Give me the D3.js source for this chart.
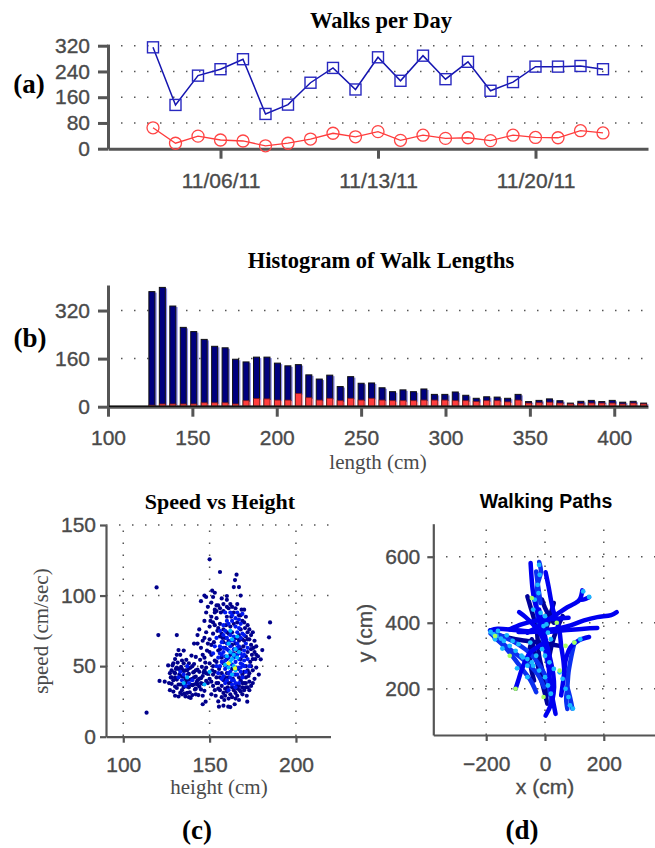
<!DOCTYPE html>
<html><head><meta charset="utf-8">
<script src="https://cdn.jsdelivr.net/npm/d3@7"></script>
<style>body{margin:0;background:#fff}svg{display:block}</style>
</head><body>
<svg id="fig" width="655" height="848"></svg>
<script>
// ---------- (a) Walks per Day ----------
const walkDates = ["2011-11-03","2011-11-04","2011-11-05","2011-11-06","2011-11-07","2011-11-08","2011-11-09","2011-11-10","2011-11-11","2011-11-12","2011-11-13","2011-11-14","2011-11-15","2011-11-16","2011-11-17","2011-11-18","2011-11-19","2011-11-20","2011-11-21","2011-11-22","2011-11-23"];
const walksAll  = [315,136,227,247,278,108,137,205,251,184,284,211,289,216,270,180,207,255,255,257,247];
const walksLong = [65,17,39,27,24,9,17,30,48,37,53,26,42,32,34,25,42,35,34,56,49];
const dateTicks = ["2011-11-06","2011-11-13","2011-11-20"];
const walksYTicks = [0,80,160,240,320];

// ---------- (b) Histogram of Walk Lengths ----------
const lengthBins = [126,132.2,138.4,144.6,150.8,157,163.2,169.4,175.6,181.8,188,194.2,200.4,206.6,212.8,219,225.2,231.4,237.6,243.8,250,256.2,262.4,268.6,274.8,281,287.2,293.4,299.6,305.8,312,318.2,324.4,330.6,336.8,343,349.2,355.4,361.6,367.8,374,380.2,386.4,392.6,398.8,405,411.2,417.4];
const histAll  = [383,397,335,264,250,224,201,196,158,149,165,165,145,136,140,106,92,105,67,100,78,79,63,50,56,50,59,41,41,49,38,28,33,32,28,41,17,21,26,20,12,18,21,17,21,15,18,12];
const histLong = [5,9,9,9,9,13,13,13,9,20,27,26,22,22,44,30,22,28,20,28,22,28,22,20,20,20,22,22,22,20,20,17,20,20,16,22,12,13,15,12,9,10,12,12,12,9,12,9];
const histXTicks = [100,150,200,250,300,350,400];
const histYTicks = [0,160,320];

// ---------- (c) Speed vs Height : [height cm, speed cm/s] ----------
const scatterNavy = [
[127.5,42],[128,37.5],[128.5,50.5],[129,32],[129.5,45.5],[130,29],[130.5,48],[130,35.5],[131,40.5],[131.5,52.5],[132,28.5],[132.5,44],[133,37],[133.5,49.5],[134,33],[134.5,42.5],[135,46.5],[135.5,30.5],[136,38.5],[136.5,54.5],[137,35.5],[137.5,44],[138,48.5],[138.5,31.5],[139,40.5],[139.5,57.5],[140,36.5],[140.5,45.5],[141,51.5],[141.5,33.5],[142,42.5],[142.5,38.5],[143,47.5],[143.5,29.5],[144,35.5],[144.5,54.5],[145,41.5],[145.5,49.5],[146,37.5],[146.5,45.5],[147,32.5],[147.5,52.5],[148,39.5],[148.5,61],[149,44.5],[138,52],[134,54],[131,34.5],[136,28.5],[140,29.5],[142,56.5],[145,33.5],[126,50.5],[127,33],[129,52],[133,58],[135,61],[137,40],[139,27.5],[141,46],[143,40],[146,29],[147,56],[132,48],[130,42],[134,37],[136,47],[138,44.5],[140,41],[144,46],[142,34],[128,47],[126.5,38],[135,35],[137,31],[141,37],[139,49],[133,31],[131,58],
[129,40],[130,45],[131,49],[132,37],[133,43],[134,48],[135,52],[136,41],[137,47],[138,35],[139,37],[140,50],[141,42],[142,47],[143,37],[144,41],[145,38],[146,43],[147,47],[148,45],[149,38],[127,45],[128,42],[130,55],[134,30],[138,28],[142,30],
[150.5,82],[151,58],[151.5,47],[152,36],[152.5,67],[153,54],[153.5,29],[154,42],[154.5,75],[155,61],[155.5,48],[156,33],[156.5,88],[157,56],[157.5,70],[158,40],[158.5,26],[159,63],[159.5,79],[160,45],[160.5,35],[161,68],[161.5,52],[162,30],[162.5,85],[163,74],[163.5,41],[164,59],[164.5,23],[165,66],[165.5,37],[166,81],[166.5,48],[167,72],[167.5,33],[168,55],[168.5,90],[169,44],[169.5,64],[170,38],[170.5,77],[171,50],[171.5,29],[172,60],[172.5,43],[173,69],[173.5,53],[174,36],[174.5,58],[175,47],[175.5,63],[176,41],[176.5,55],[177,49],[178,57],[178.5,44],[152,73],[153,88],[155,93],[156,71],[157,45],[158,52],[159,34],[160,85],[161,27],[162,58],[163,48],[164,88],[165,31],[166,61],[167,42],[168,76],[169,35],[170,68],[171,57],[172,47],[173,39],[174,65],[155,38],[157,28],[159,42],[161,38],[163,35],[165,44],[167,26],[169,30],[171,35],[160,55],[158,67],[156,62],[154,53],[152,44],[151,39],[150,52],[166,70],[168,62],[170,46],[164,80],[162,78],[160,74],[158,76],[156,80],[154,84],[171,85],[169,82],[167,86],[165,91],[163,92],[161,91],[158,94],[157,98],[160,97],[170,90],[172,74],[174,72],[176,68],[175,38],[173,33],[171,42],[155,25],[158,22],[162,21],[166,34],[168,40],[153,33],[151,30],[150,41],
[150,60],[151,65],[152,50],[153,46],[154,38],[155,34],[156,42],[157,36],[158,31],[159,29],[160,32],[161,42],[162,38],[163,28],[164,33],[165,27],[166,29],[167,36],[168,32],[169,38],[170,33],[171,38],[172,35],[173,45],[174,50],[175,55],[176,60],[177,58],[174,62],[172,69],[171,71],[169,69],[167,68],[165,70],[163,65],[161,73],[159,70],[157,73],[155,77],[153,79],[152,81],[154,89],[156,91],[158,89],[160,92],[162,94],[166,94],[168,86],[170,81],[172,79],[173,76],[175,74],
[141,66],[143,72],[144,76],[145,63],[146,68],[147,70],[147,82],[148,74],[148,88],[149,66],[149,92],[150,78],[150,69],[151,85],[151,95],[152,99],[153,90],[153,102],[154,93],[145,96],[147,100],[148,99],[151.5,103.5],[150,125.7],[156,116.7],[165.6,114.8],[164.7,111],[164,106],[167,106],[168,100],[160,99.7],[185,81],[184.4,70.4],[180.5,61.4],[179.6,54.8],[177,64],[171.8,24.8],[160.8,21.3],[155.4,21.3],[146,23],[147.7,24.8],[121,39.5],[124,39],[113.5,17],[119.3,105.8],[120.3,72],[131,72],[132,61.4],[143,66],[146,58],[148,49]
];
const scatterBlue = [[158,60],[160,62],[162,64],[164,56],[166,58],[168,52],[159,48],[161,45],[163,51],[165,53],[167,49],[169,57],[160,70],[162,72],[164,68],[166,66],[168,70],[163,40],[165,38],[161,56],[159,54],[157,58],[170,54],[168,46],[164,62],[166,74],[167,64],[162,46],[158,43],[156,50],[165,78],[167,83],[163,86],[159,88],[169,87],[164,44],[160,40],[134,40],[136,36],[138,38],[132,42],[135,44],[140,40],[137,50],[133,46],
[156,64],[157,67],[158,72],[159,75],[161,80],[163,82],[165,84],[167,77],[169,73],[171,66],[170,61],[172,55],[173,50],[171,46],[169,42],[167,38],[165,35],[163,37],[161,33],[159,38],[157,41],[155,45],[154,50],[155,56],[156,59],[158,63],[160,66],[162,68],[164,71],[166,63],[168,59],[170,58],[169,51],[167,55],[165,57],[163,59],[161,61],[159,57],[157,53],[160,50],[162,42],[164,40],[166,44],[168,49],[170,50],[172,63],[170,72],[168,80],[166,88],[162,88],[160,82],[158,79],[156,75],[154,70],[153,64],[152,59]];
const scatterCyan = [[162,60],[164,58],[160,57],[163,55],[165,62],[161,66],[163,69],[166,56],[159,51],[162,53],[164,50],[167,60],[161,49],[165,47],[163,44],[135,38],[137,42],[162,75],[166,71],[147,37],[150,46]];
const scatterYellow = [[164.7,48.4],[161,52]];
const heightTicks = [100,150,200];
const speedTicks = [0,50,100,150];

// ---------- (d) Walking Paths : [x cm, y cm] ----------
const pathsBlue = [
[[-49,581],[-46,540],[-42,500],[-36,468],[-27,437],[-15,397],[-5,357],[8,300],[14,250],[19,205],[28,160],[36,124]],
[[2,553],[12,510],[20,470],[28,437],[40,407],[50,370],[55,330],[62,290],[66,250]],
[[127,498],[118,470],[100,458],[76,447],[42,427],[8,407],[-26,387],[-60,370]],
[[150,477],[130,470],[118,470]],
[[244,432],[225,423],[178,417],[133,407],[87,392],[42,382],[-3,377],[-49,372],[-90,372]],
[[178,384],[133,382],[65,377],[-3,372],[-94,377],[-162,382],[-185,377]],
[[150,357],[116,347],[87,326],[70,286],[65,245],[59,205],[55,180]],
[[2,119],[14,139],[25,165],[31,205],[28,245],[19,286],[8,326],[0,360],[-10,400],[-20,440]],
[[-100,200],[-91,225],[-80,256],[-66,286],[-49,311],[-26,326],[0,340]],
[[-120,380],[-80,395],[-40,405],[0,410],[40,412],[80,415]],
[[-88,432],[-66,417],[-43,397],[-20,372],[-3,346],[10,320]]
];
const pathsNavy = [
[[8,155],[-3,195],[-15,235],[-26,276],[-37,316],[-45,350]],
[[-60,480],[-50,450],[-40,420],[-30,390],[-25,350],[-20,300],[-10,260],[0,220],[5,180]],
[[30,460],[20,430],[10,400],[0,370],[-10,340]],
[[60,420],[40,380],[25,340],[15,300],[10,270]],
[[-150,360],[-100,350],[-60,345],[-20,340],[20,335],[50,330]],
[[-37,225],[-46,256],[-51,286],[-54,306],[-50,330]],
[[-10,470],[0,445],[15,420],[30,400]]
];
const pathsMixed = [
[[-20,584],[-14,555],[-24,520],[-30,480],[-28,440],[-22,400],[-10,360],[0,320],[8,280]],
[[99,336],[90,300],[80,250],[76,205],[72,170],[76,139]],
[[76,205],[85,175],[93,140]],
[[-187,377],[-160,365],[-139,357],[-94,336],[-49,306],[-15,266],[8,225],[19,175],[19,155]],
[[-185,367],[-155,345],[-128,326],[-71,286],[-26,245],[-3,205]],
[[-173,357],[-140,330],[-117,306],[-83,266],[-49,225],[-30,190]],
[[-30,555],[-25,520],[-20,490],[-15,460]]
];
const pathDotsCyan = [[-185,372],[-175,365],[-165,360],[-150,352],[-140,345],[-120,330],[-100,315],[-80,300],[-60,290],[-40,270],[-20,255],[0,235],[10,210],[20,185],[-20,575],[-18,545],[-35,470],[-40,440],[-15,430],[0,420],[-5,390],[10,370],[20,350],[-10,320],[0,300],[15,280],[30,260],[50,250],[60,230],[70,200],[80,175],[85,150],[95,140],[-30,300],[-45,280],[-60,270],[-75,295],[-50,340],[-90,335],[-110,345],[-130,362],[-160,375],[130,495],[150,478],[100,340],[120,350],[-25,515],[-22,490],[5,395],[-170,350],[-145,322],[-95,262],[-60,235]];
const pathDotsGreen = [[-100,200],[-170,360],[100,340],[-45,475],[70,330],[-5,175],[-120,300],[40,400],[50,255]];
const pathXTicks = [-200,0,200];
const pathYTicks = [200,400,600];

// ================= drawing =================
const svg = d3.select("#fig");
const SANS = "'Liberation Sans', Arial, Helvetica, sans-serif";
const SERIF = "'Liberation Serif', 'Times New Roman', serif";
const AX = "#555", TXT = "#4a4a4a";

function styleAxis(g, w) {
  g.attr("font-family", SANS).attr("font-size", 21);
  g.select(".domain").attr("stroke", AX).attr("stroke-width", w);
  g.selectAll(".tick line").attr("stroke", AX).attr("stroke-width", w);
  g.selectAll(".tick text").attr("fill", TXT).attr("stroke", TXT).attr("stroke-width", 0.35);
}
function hGrid(y, vals, x0, x1) {
  svg.append("g").selectAll("line").data(vals).join("line")
    .attr("x1", x0).attr("x2", x1).attr("y1", d => y(d)).attr("y2", d => y(d))
    .attr("stroke", "#555").attr("stroke-width", 1.5).attr("stroke-dasharray", "1.5,11.5");
}
function vGrid(x, vals, y0, y1) {
  svg.append("g").selectAll("line").data(vals).join("line")
    .attr("y1", y0).attr("y2", y1).attr("x1", d => x(d)).attr("x2", d => x(d))
    .attr("stroke", "#555").attr("stroke-width", 1.5).attr("stroke-dasharray", "1.5,10.5");
}
function text(x, y, s, font, size, weight, fill, anchor, rot) {
  const t = svg.append("text").attr("x", x).attr("y", y).text(s)
    .attr("font-family", font).attr("font-size", size).attr("font-weight", weight)
    .attr("fill", fill).attr("text-anchor", anchor || "middle");
  if (rot) t.attr("transform", `rotate(${rot},${x},${y})`);
  return t;
}

// ---- (a)
{
  const parse = d3.timeParse("%Y-%m-%d");
  const x = d3.scaleTime().domain([parse("2011-11-01"), parse("2011-11-25")]).range([108, 648]);
  const y = d3.scaleLinear().domain([0, 325]).range([148.7, 44.1]);
  hGrid(y, [80,160,240,320], 108, 648);
  const gy = svg.append("g").attr("transform", "translate(108,0)")
    .call(d3.axisLeft(y).tickValues(walksYTicks).tickSize(10).tickSizeOuter(0).tickPadding(8));
  styleAxis(gy, 3);
  const gx = svg.append("g").attr("transform", "translate(0,148.7)")
    .call(d3.axisBottom(x).tickValues(dateTicks.map(parse)).tickFormat(d3.timeFormat("%m/%d/%y")).tickSize(10).tickSizeOuter(0).tickPadding(14));
  styleAxis(gx, 3);
  const pts = walkDates.map(parse);
  const line = d3.line().x((d, i) => x(pts[i])).y(d => y(d));
  svg.append("path").datum(walksLong).attr("d", line).attr("fill", "none").attr("stroke", "#ff3b3b").attr("stroke-width", 1.3);
  svg.append("g").selectAll("circle").data(walksLong).join("circle")
    .attr("cx", (d, i) => x(pts[i])).attr("cy", d => y(d)).attr("r", 6)
    .attr("fill", "none").attr("stroke", "#ff4545").attr("stroke-width", 1.3);
  svg.append("path").datum(walksAll).attr("d", line).attr("fill", "none").attr("stroke", "#1515b0").attr("stroke-width", 1.5);
  svg.append("g").selectAll("rect").data(walksAll).join("rect")
    .attr("x", (d, i) => x(pts[i]) - 5.5).attr("y", d => y(d) - 5.5).attr("width", 11).attr("height", 11)
    .attr("fill", "none").attr("stroke", "#2828c0").attr("stroke-width", 1.4);
  text(381, 28, "Walks per Day", SERIF, 22.5, "bold", "#000");
  text(29, 93, "(a)", SERIF, 27, "bold", "#000");
}

// ---- (b)
{
  const x = d3.scaleLinear().domain([100, 420]).range([108, 648]);
  const y = d3.scaleLinear().domain([0, 405]).range([406.7, 285]);
  hGrid(y, [160,320], 108, 648);
  const bw = 6;
  const g = svg.append("g");
  g.selectAll("rect.sh").data(histAll).join("rect").attr("class","sh")
    .attr("x", (d, i) => x(lengthBins[i]) - bw/2 + 1.8).attr("y", d => y(d) + 1)
    .attr("width", bw).attr("height", d => y(0) - y(d) - 1).attr("fill", "#8a8ae6");
  g.selectAll("rect.b").data(histAll).join("rect").attr("class","b")
    .attr("x", (d, i) => x(lengthBins[i]) - bw/2).attr("y", d => y(d))
    .attr("width", bw).attr("height", d => y(0) - y(d))
    .attr("fill", "#00007e").attr("stroke", "#111").attr("stroke-width", 1);
  g.selectAll("rect.rs").data(histLong).join("rect").attr("class","rs")
    .attr("x", (d, i) => x(lengthBins[i]) - bw/2 + 1.5).attr("y", d => y(d) + 1)
    .attr("width", bw).attr("height", d => y(0) - y(d) - 1).attr("fill", "#ff9a9a");
  g.selectAll("rect.r").data(histLong).join("rect").attr("class","r")
    .attr("x", (d, i) => x(lengthBins[i]) - bw/2).attr("y", d => y(d))
    .attr("width", bw).attr("height", d => y(0) - y(d))
    .attr("fill", "#ff3d3d").attr("stroke", "#7a1a1a").attr("stroke-width", 0.8);
  const gy = svg.append("g").attr("transform", "translate(108,0)")
    .call(d3.axisLeft(y).tickValues(histYTicks).tickSize(10).tickSizeOuter(0).tickPadding(8));
  styleAxis(gy, 3);
  const gx = svg.append("g").attr("transform", "translate(0,406.7)")
    .call(d3.axisBottom(x).tickValues(histXTicks).tickSize(10).tickSizeOuter(0).tickPadding(13));
  styleAxis(gx, 3);
  svg.append("line").attr("x1", 109).attr("x2", 648).attr("y1", 406.2).attr("y2", 406.2).attr("stroke", "#111").attr("stroke-width", 1.6);
  text(381, 268, "Histogram of Walk Lengths", SERIF, 22.5, "bold", "#000");
  text(378, 469, "length (cm)", SERIF, 21, "normal", TXT);
  text(30, 347, "(b)", SERIF, 27, "bold", "#000");
}

// ---- (c)
{
  const x = d3.scaleLinear().domain([90, 220]).range([106, 330.5]);
  const y = d3.scaleLinear().domain([0, 150]).range([736.7, 525]);
  hGrid(y, [50,100,150], 106, 331);
  vGrid(x, heightTicks, 736, 525);
  const gy = svg.append("g").attr("transform", "translate(106,0)")
    .call(d3.axisLeft(y).tickValues(speedTicks).tickSize(6).tickSizeOuter(0).tickPadding(4));
  styleAxis(gy, 2.2);
  const gx = svg.append("g").attr("transform", "translate(0,736.7)")
    .call(d3.axisBottom(x).tickValues(heightTicks).tickSize(6).tickSizeOuter(0).tickPadding(14));
  styleAxis(gx, 2.2);
  const dots = (arr, col) => svg.append("g").selectAll("circle").data(arr).join("circle")
    .attr("cx", d => x(d[0])).attr("cy", d => y(d[1])).attr("r", 2.1).attr("fill", col);
  dots(scatterNavy, "#00008c");
  dots(scatterBlue, "#0018f0");
  dots(scatterCyan, "#00b4ff");
  dots(scatterYellow, "#e8ff30");
  text(220, 509, "Speed vs Height", SERIF, 22, "bold", "#000");
  text(219, 794, "height (cm)", SERIF, 21, "normal", TXT);
  text(48, 631, "speed (cm/sec)", SERIF, 21, "normal", TXT, "middle", -90);
  text(197, 839, "(c)", SERIF, 27, "bold", "#000");
}

// ---- (d)
{
  const x = d3.scaleLinear().domain([-380, 380]).range([433.3, 656.7]);
  const y = d3.scaleLinear().domain([60, 700]).range([735, 523.7]);
  hGrid(y, pathYTicks, 433, 655);
  vGrid(x, pathXTicks, 735, 524);
  const gy = svg.append("g").attr("transform", "translate(433.3,0)")
    .call(d3.axisLeft(y).tickValues(pathYTicks).tickSize(6).tickSizeOuter(0).tickPadding(7));
  styleAxis(gy, 2.2);
  const gx = svg.append("g").attr("transform", "translate(0,735)")
    .call(d3.axisBottom(x).tickValues(pathXTicks).tickSize(6).tickSizeOuter(0).tickPadding(15));
  styleAxis(gx, 2.2);
  const line = d3.line().x(d => x(d[0])).y(d => y(d[1])).curve(d3.curveCatmullRom);
  const draw = (arr, col) => svg.append("g").selectAll("path").data(arr).join("path")
    .attr("d", line).attr("fill", "none").attr("stroke", col).attr("stroke-width", 4.5)
    .attr("stroke-linecap", "round").attr("stroke-linejoin", "round");
  draw(pathsNavy, "#00009a");
  draw(pathsMixed, "#0a30f0");
  draw(pathsBlue, "#0000f0");
  const pd = (arr, col, r) => svg.append("g").selectAll("circle").data(arr).join("circle")
    .attr("cx", d => x(d[0])).attr("cy", d => y(d[1])).attr("r", r).attr("fill", col);
  pd(pathDotsCyan, "#1ab8ff", 2.4);
  pd(pathDotsGreen, "#a8ff60", 2.3);
  text(546, 508, "Walking Paths", SANS, 19.5, "bold", "#000");
  text(545, 794, "x (cm)", SANS, 21, "normal", TXT).attr("stroke", TXT).attr("stroke-width", 0.35);
  text(372, 633, "y (cm)", SANS, 21, "normal", TXT, "middle", -90).attr("stroke", TXT).attr("stroke-width", 0.35);
  text(522, 839, "(d)", SERIF, 27, "bold", "#000");
}
</script>
</body></html>
